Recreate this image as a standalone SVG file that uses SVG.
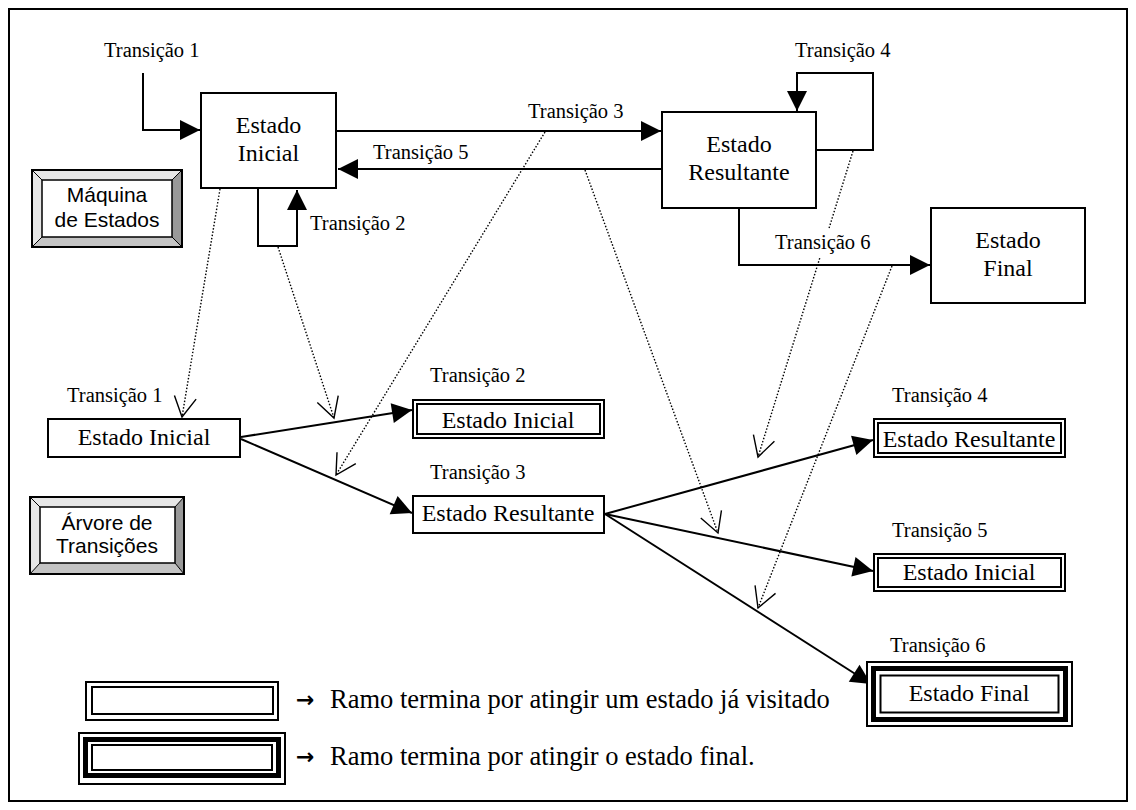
<svg xmlns="http://www.w3.org/2000/svg" width="1136" height="810" viewBox="0 0 1136 810">
  <style>
    .lbl { font-family: 'Liberation Serif', 'DejaVu Serif', serif; font-size: 20.5px; fill: #000; }
    .st { font-family: 'Liberation Serif', 'DejaVu Serif', serif; font-size: 24px; fill: #000; text-anchor: middle; }
    .leg { font-family: 'Liberation Serif', 'DejaVu Serif', serif; font-size: 26.5px; fill: #000; }
    .arr { font-family: 'DejaVu Sans', sans-serif; font-size: 22px; font-weight: bold; fill: #000; }
    .sans { font-family: 'Liberation Sans', Arial, sans-serif; font-size: 21px; fill: #000; text-anchor: middle; }
    .box { fill: #fff; stroke: #000; stroke-width: 2; }
    .thin { fill: none; stroke: #000; stroke-width: 2; }
    .thick { fill: none; stroke: #000; stroke-width: 5; }
    .wire { fill: none; stroke: #000; stroke-width: 2; }
    .dot { fill: none; stroke: #000; stroke-width: 1.4; stroke-dasharray: 1.5 1.8; }
    .hi { fill: #e6e6e6; }
    .lo { fill: #999; }
    .mid { fill: #c4c4c4; }
  </style>
  <defs>
    <marker id="solidHead" markerUnits="userSpaceOnUse" markerWidth="22" markerHeight="22" refX="20" refY="10" orient="auto" overflow="visible">
      <path d="M0,0 L20,10 L0,20 Z" fill="#000"/>
    </marker>
    <marker id="openHead" markerUnits="userSpaceOnUse" markerWidth="24" markerHeight="24" refX="20" refY="11" orient="auto" overflow="visible">
      <path d="M0,0 L20,11 L0,22" fill="none" stroke="#000" stroke-width="1.4" stroke-dasharray="none"/>
    </marker>
  </defs>

  <rect x="0" y="0" width="1136" height="810" fill="#fff"/>
  <!-- frame -->
  <rect x="9" y="9" width="1118" height="792" fill="none" stroke="#000" stroke-width="2"/>

  <!-- connectors -->
  <g id="connectors">
    <!-- state machine transitions -->
    <path class="wire" d="M143,73 V130 H200" marker-end="url(#solidHead)"/>
    <path class="wire" d="M337,131 H661" marker-end="url(#solidHead)"/>
    <path class="wire" d="M662,169 H338" marker-end="url(#solidHead)"/>
    <path class="wire" d="M258,189 V246 H297 V190" marker-end="url(#solidHead)"/>
    <path class="wire" d="M817,150 H873 V73 H797 V111" marker-end="url(#solidHead)"/>
    <path class="wire" d="M739,209 V265 H930" marker-end="url(#solidHead)"/>

    <!-- mapping from machine to tree -->
    <path class="dot" d="M220,189 L182,417" marker-end="url(#openHead)"/>
    <path class="dot" d="M278,247 L334,418" marker-end="url(#openHead)"/>
    <path class="dot" d="M545,132 L336,475" marker-end="url(#openHead)"/>
    <path class="dot" d="M585,170 L718,533" marker-end="url(#openHead)"/>
    <path class="dot" d="M853,151 L758,457" marker-end="url(#openHead)"/>
    <path class="dot" d="M892,266 L758,608" marker-end="url(#openHead)"/>

    <!-- tree branches -->
    <path class="wire" d="M241,437 L412,410" marker-end="url(#solidHead)"/>
    <path class="wire" d="M241,439 L412,513" marker-end="url(#solidHead)"/>
    <path class="wire" d="M605,514 L873,440" marker-end="url(#solidHead)"/>
    <path class="wire" d="M605,514 L873,571" marker-end="url(#solidHead)"/>
    <path class="wire" d="M605,514 L871,684" marker-end="url(#solidHead)"/>

    <!-- transition labels -->
    <text class="lbl" x="104" y="57">Transição 1</text>
    <text class="lbl" x="310" y="230">Transição 2</text>
    <text class="lbl" x="528" y="118">Transição 3</text>
    <text class="lbl" x="373" y="159">Transição 5</text>
    <text class="lbl" x="795" y="57">Transição 4</text>
    <rect x="773" y="229" width="102" height="29" fill="#fff"/>
    <text class="lbl" x="775" y="249">Transição 6</text>

    <text class="lbl" x="67" y="402">Transição 1</text>
    <text class="lbl" x="430" y="382">Transição 2</text>
    <text class="lbl" x="430" y="479">Transição 3</text>
    <text class="lbl" x="892" y="402">Transição 4</text>
    <text class="lbl" x="892" y="537">Transição 5</text>
    <text class="lbl" x="890" y="652">Transição 6</text>
  </g>

  <!-- state machine nodes -->
  <g id="sm-inicial">
    <rect class="box" x="201" y="93" width="135" height="95"/>
    <text class="st" x="268.5" y="133">Estado</text>
    <text class="st" x="268.5" y="161">Inicial</text>
  </g>
  <g id="sm-resultante">
    <rect class="box" x="662" y="112" width="154" height="96"/>
    <text class="st" x="739" y="152">Estado</text>
    <text class="st" x="739" y="180">Resultante</text>
  </g>
  <g id="sm-final">
    <rect class="box" x="931" y="208" width="154" height="95"/>
    <text class="st" x="1008" y="248">Estado</text>
    <text class="st" x="1008" y="276">Final</text>
  </g>

  <!-- section badges -->
  <g id="badge-maquina">
    <polygon class="hi" points="32,170 182,170 172,180 42,180"/>
    <polygon class="hi" points="32,170 42,180 42,237 32,247"/>
    <polygon class="lo" points="182,170 182,247 172,237 172,180"/>
    <polygon class="mid" points="32,247 182,247 172,237 42,237"/>
    <rect x="42" y="180" width="130" height="57" fill="#fff" stroke="#000" stroke-width="1.5"/>
    <path d="M32,170 L42,180 M182,170 L172,180 M32,247 L42,237 M182,247 L172,237" stroke="#000" stroke-width="1"/>
    <rect x="32" y="170" width="150" height="77" fill="none" stroke="#000" stroke-width="2"/>
    <text class="sans" x="107" y="202">Máquina</text>
    <text class="sans" x="107" y="227">de Estados</text>
  </g>
  <g id="badge-arvore">
    <polygon class="hi" points="30,497 184,497 175,507 40,507"/>
    <polygon class="hi" points="30,497 40,507 40,563 30,574"/>
    <polygon class="lo" points="184,497 184,574 175,563 175,507"/>
    <polygon class="mid" points="30,574 184,574 175,563 40,563"/>
    <rect x="40" y="507" width="135" height="56" fill="#fff" stroke="#000" stroke-width="1.5"/>
    <path d="M30,497 L40,507 M184,497 L175,507 M30,574 L40,563 M184,574 L175,563" stroke="#000" stroke-width="1"/>
    <rect x="30" y="497" width="154" height="77" fill="none" stroke="#000" stroke-width="2"/>
    <text class="sans" x="107" y="530">Árvore de</text>
    <text class="sans" x="107" y="553">Transições</text>
  </g>

  <!-- tree nodes -->
  <g id="tree-inicial">
    <rect class="box" x="48" y="419" width="192" height="38"/>
    <text class="st" x="144" y="445">Estado Inicial</text>
  </g>
  <g id="tree-t2">
    <rect class="box" x="413" y="400" width="191" height="38"/>
    <rect class="thin" x="417" y="404" width="183" height="30"/>
    <text class="st" x="508" y="428">Estado Inicial</text>
  </g>
  <g id="tree-t3">
    <rect class="box" x="413" y="496" width="191" height="37"/>
    <text class="st" x="508" y="521">Estado Resultante</text>
  </g>
  <g id="tree-t4">
    <rect class="box" x="874" y="419" width="191" height="38"/>
    <rect class="thin" x="878" y="423" width="183" height="30"/>
    <text class="st" x="969" y="447">Estado Resultante</text>
  </g>
  <g id="tree-t5">
    <rect class="box" x="874" y="554" width="191" height="37"/>
    <rect class="thin" x="878" y="558" width="183" height="29"/>
    <text class="st" x="969" y="580">Estado Inicial</text>
  </g>
  <g id="tree-t6">
    <rect class="box" x="867" y="662" width="205" height="64"/>
    <rect class="thick" x="873.5" y="668.5" width="192" height="51"/>
    <rect class="thin" x="880.5" y="675.5" width="178" height="37"/>
    <text class="st" x="969" y="701">Estado Final</text>
  </g>

  <!-- legend -->
  <g id="legend-visited">
    <rect class="box" x="86" y="682" width="192" height="38"/>
    <rect class="thin" x="92" y="687" width="181" height="27"/>
    <text class="arr" x="296" y="707">→</text>
    <text class="leg" x="330" y="708">Ramo termina por atingir um estado já visitado</text>
  </g>
  <g id="legend-final">
    <rect class="box" x="79" y="733" width="206" height="51"/>
    <rect class="thick" x="85.5" y="739.5" width="193" height="36"/>
    <rect class="thin" x="92" y="745" width="180" height="25"/>
    <text class="arr" x="296" y="764">→</text>
    <text class="leg" x="330" y="765">Ramo termina por atingir o estado final.</text>
  </g>
</svg>
